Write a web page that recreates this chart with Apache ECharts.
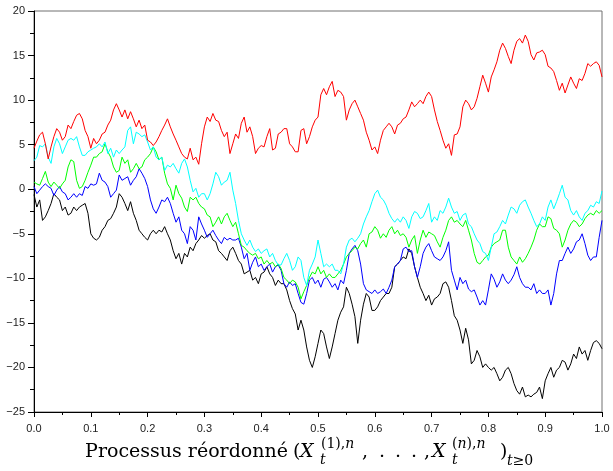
<!DOCTYPE html>
<html>
<head>
<meta charset="utf-8">
<title>Processus réordonné</title>
<script src="https://cdn.jsdelivr.net/npm/echarts@6/dist/echarts.min.js"></script>
<style>
body { margin: 0; background: #fff; }
#main { width: 613px; height: 471px; }
</style>
</head>
<body>
<div id="main"></div>
<script>
// pas de temps entre deux points
var tStep = 0.005;

// trajectoires réordonnées, lues à t = 0, 0.005, ..., 1
var blackWalk = [
  -0.6, -2.0, -1.2, -3.5, -3.1, -2.4, -1.6, -0.5, -0.9, -1.2,
  -2.4, -2.0, -2.9, -2.7, -2.0, -2.4, -2.0, -1.8, -1.6, -2.7,
  -5.0, -5.5, -5.7, -5.4, -4.6, -4.2, -3.5, -3.3, -2.7, -2.0,
  -0.5, -0.9, -1.6, -2.4, -1.4, -2.7, -3.5, -4.6, -5.0, -5.4,
  -5.7, -5.0, -4.6, -5.0, -4.6, -4.8, -4.2, -5.0, -5.7, -6.9,
  -7.8, -7.2, -8.4, -7.2, -7.6, -6.5, -6.9, -6.1, -5.7, -5.2,
  -5.5, -5.2, -5.0, -5.7, -5.9, -6.9, -7.2, -7.6, -8.0, -6.9,
  -6.5, -7.2, -8.0, -8.4, -9.5, -9.3, -9.1, -10.2, -9.9, -10.6,
  -9.5, -9.3, -8.7, -9.5, -9.9, -10.8, -10.2, -10.6, -10.6, -11.3,
  -12.5, -13.4, -14.0, -15.8, -14.7, -15.8, -17.7, -19.2, -20.0, -18.8,
  -17.3, -15.8, -16.2, -17.7, -19.0, -17.7, -16.2, -14.7, -13.8, -13.2,
  -11.0, -11.7, -12.9, -14.3, -17.3, -14.7, -12.9, -11.7, -12.1, -13.6,
  -13.6, -13.2, -12.5, -12.1, -11.7, -11.7, -11.0, -8.7, -8.4, -8.0,
  -7.6, -7.8, -6.7, -7.2, -8.7, -9.9, -11.0, -11.7, -12.5, -11.9,
  -13.0, -12.3, -12.1, -11.7, -10.6, -10.4, -11.0, -12.5, -14.2, -14.7,
  -15.8, -17.3, -15.6, -16.9, -19.6, -19.2, -18.1, -18.8, -20.0, -19.6,
  -20.0, -20.3, -20.0, -20.7, -21.5, -21.1, -20.3, -20.0, -20.7, -21.8,
  -22.6, -23.0, -22.2, -23.3, -23.1, -23.3, -23.0, -22.8, -22.2, -23.5,
  -21.5, -20.7, -20.0, -21.1, -20.3, -20.0, -19.2, -19.4, -20.3, -19.6,
  -18.5, -19.0, -17.7, -18.5, -18.1, -19.2, -18.1, -17.2, -17.0, -17.3,
  -17.9
];
var blueWalk = [
  0.3, -0.5, -0.1, 0.3, 0.6, 0.3, 0.1, -0.7, -0.1, 0.3,
  -0.3, -0.5, -1.2, -0.9, -0.5, -0.9, -0.5, -0.7, 0.3, 0.1,
  0.6, 0.45, 0.6, 1.8, 1.0, 0.8, 0.3, -0.9, -0.5, -0.1,
  1.6, 1.0, 1.2, 1.4, 0.45, 1.0, 1.4, 2.3, 1.8, 1.2,
  0.3, -1.2, -2.2, -2.7, -2.0, -1.2, -1.4, -0.9, -1.6, -2.7,
  -3.7, -3.1, -4.6, -5.0, -6.1, -4.2, -4.6, -5.7, -3.1, -3.9,
  -4.6, -5.4, -5.0, -4.6, -5.2, -5.7, -6.1, -5.4, -5.7, -5.5,
  -5.7, -5.7, -5.5, -6.5, -7.8, -7.2, -9.1, -8.2, -7.6, -8.7,
  -8.4, -9.1, -8.7, -8.4, -9.3, -8.7, -8.5, -9.1, -10.6, -11.0,
  -10.4, -10.8, -10.6, -11.7, -12.7, -12.9, -11.7, -10.2, -9.9, -10.6,
  -10.2, -11.0, -10.1, -9.9, -10.4, -11.0, -10.6, -11.3, -10.2, -10.6,
  -9.1, -7.2, -6.7, -6.3, -6.9, -8.4, -10.6, -11.3, -11.5, -11.7,
  -11.3, -11.7, -11.5, -11.2, -11.7, -11.0, -10.2, -8.7, -8.4, -8.0,
  -6.7, -6.5, -7.0, -6.9, -8.7, -9.9, -8.7, -7.2, -6.5, -6.1,
  -6.9, -7.6, -7.8, -8.0, -7.6, -6.9, -5.9, -9.1, -10.2, -11.3,
  -9.9, -10.6, -10.2, -11.2, -11.5, -11.3, -12.1, -13.0, -12.5, -13.0,
  -11.3, -9.5, -10.1, -11.0, -10.4, -9.5, -10.2, -10.6, -10.2, -9.6,
  -8.7, -9.9, -10.6, -11.0, -11.0, -11.3, -10.6, -11.7, -11.3, -11.7,
  -11.7, -11.3, -13.0, -11.7, -9.5, -8.0, -8.0, -7.2, -6.5, -7.2,
  -6.7, -5.9, -5.7, -5.0, -6.1, -7.4, -8.0, -7.6, -7.6, -5.4,
  -3.5
];
var greenWalk = [
  0.8, 0.6, 0.45, 1.2, 2.0, 0.8, 0.3, 0.8, 0.45, 0.1,
  0.6, 1.0, 2.5, 3.3, 3.1, 1.0, 0.1, 0.3, 1.0, 1.9,
  2.7, 3.6, 3.6, 4.0, 4.2, 5.1, 4.2, 3.6, 2.5, 1.9,
  2.1, 3.6, 2.9, 3.3, 1.9, 2.3, 2.9, 2.3, 2.5, 3.3,
  3.6, 4.0, 4.75, 4.2, 3.3, 3.6, 1.8, 0.6, 0.1, -1.2,
  0.45, -0.5, -1.0, -2.0, -2.5, -0.9, -1.2, -0.9, -1.6, -2.0,
  -2.2, -2.9, -3.1, -4.2, -3.7, -3.1, -3.9, -3.1, -2.7, -3.5,
  -4.2, -3.7, -5.0, -6.3, -6.5, -6.9, -7.2, -7.4, -7.2, -7.8,
  -7.6, -8.4, -8.0, -8.4, -8.2, -8.7, -8.4, -8.9, -9.9, -10.2,
  -10.6, -10.2, -10.4, -11.0, -12.3, -11.5, -10.8, -9.9, -9.3, -9.5,
  -8.7, -9.5, -9.1, -9.9, -9.5, -9.9, -9.9, -9.5, -9.1, -8.4,
  -7.6, -7.2, -6.9, -6.5, -6.7, -6.1, -5.7, -6.5, -5.0, -4.8,
  -4.2, -4.6, -5.5, -5.0, -5.4, -4.6, -4.2, -5.0, -4.6, -5.2,
  -5.0, -5.4, -6.5, -5.7, -5.2, -7.2, -5.7, -4.6, -5.4, -4.8,
  -5.0, -5.2, -5.9, -6.5, -5.4, -4.6, -3.5, -3.1, -3.7, -3.5,
  -3.9, -4.2, -3.5, -4.6, -5.7, -7.2, -8.2, -8.4, -8.0, -7.6,
  -7.4, -6.5, -6.1, -5.9, -5.7, -4.6, -4.6, -6.5, -7.6, -8.0,
  -8.4, -7.6, -8.2, -7.8, -7.2, -6.5, -5.7, -4.6, -3.9, -4.2,
  -4.2, -3.1, -3.3, -4.4, -4.6, -5.0, -6.5, -5.7, -4.6, -3.9,
  -3.5, -3.7, -4.2, -3.9, -3.3, -2.9, -2.7, -2.9, -2.4, -2.7,
  -2.4
];
var cyanWalk = [
  3.2, 3.6, 4.9, 4.75, 5.1, 3.6, 2.9, 4.75, 5.7, 5.1,
  4.0, 4.75, 5.5, 5.7, 5.5, 5.9, 4.75, 3.8, 3.8, 4.2,
  4.4, 4.6, 4.75, 5.1, 4.75, 5.3, 4.0, 4.6, 3.6, 4.4,
  4.0, 4.4, 4.75, 6.6, 7.0, 5.1, 6.4, 6.2, 5.9, 6.1,
  5.3, 4.4, 4.75, 3.6, 3.3, 3.6, 2.1, 2.7, 2.5, 2.9,
  2.3, 1.8, 2.9, 3.4, 2.5, 1.0, -0.3, 0.1, -0.9, -0.5,
  -0.5, -1.2, -0.5, 0.6, 1.9, 1.4, 0.45, 0.8, 1.0, 1.9,
  -0.1, -1.6, -3.5, -5.0, -5.7, -6.3, -5.7, -6.5, -7.0, -6.7,
  -7.2, -6.9, -6.7, -7.6, -7.2, -8.0, -8.5, -8.5, -7.8, -7.2,
  -8.0, -9.1, -8.7, -7.6, -8.0, -9.9, -10.8, -9.1, -8.4, -7.6,
  -5.7, -7.2, -8.7, -8.4, -8.7, -8.4, -9.1, -9.1, -9.5, -8.4,
  -6.5, -5.7, -5.5, -5.9, -5.5, -5.0, -3.9, -3.1, -2.4, -1.4,
  -0.5, -0.1, -0.9, -1.2, -1.8, -2.7, -3.3, -3.7, -3.3, -3.7,
  -3.1, -3.5, -4.4, -3.1, -2.5, -2.7, -3.3, -3.1, -2.4, -1.6,
  -3.7, -3.1, -3.5, -2.4, -2.7, -2.0, -1.0, -2.0, -2.7, -2.5,
  -3.5, -2.9, -2.7, -3.9, -4.2, -5.0, -5.7, -6.1, -7.0, -7.2,
  -8.0, -6.5, -5.0, -4.8, -4.2, -3.5, -3.9, -2.9, -2.0, -2.2,
  -2.7, -1.8, -1.4, -1.2, -2.0, -2.7, -3.5, -4.2, -3.9, -3.1,
  -3.5, -2.0, -1.2, -2.2, -1.4, -0.5, 0.45, -0.9, -1.2, -2.4,
  -2.9, -2.4, -3.1, -3.5, -2.7, -2.4, -1.8, -2.0, -1.4, -1.6,
  -0.2
];
var redWalk = [
  4.6, 5.4, 6.1, 6.4, 5.1, 3.4, 4.75, 5.9, 6.8, 6.4,
  5.5, 5.9, 7.2, 6.8, 7.6, 8.3, 8.5, 7.9, 6.6, 5.9,
  4.6, 5.7, 5.1, 5.5, 6.2, 6.4, 7.2, 7.75, 8.9, 9.6,
  8.9, 8.1, 8.9, 7.9, 8.7, 7.9, 7.0, 7.75, 6.8, 7.2,
  5.5, 5.3, 4.9, 5.3, 5.9, 6.6, 7.2, 7.9, 7.0, 6.2,
  5.5, 4.75, 4.0, 3.6, 3.4, 4.6, 3.3, 3.6, 2.8, 5.1,
  7.0, 8.1, 7.6, 8.5, 7.75, 7.6, 6.6, 5.9, 6.4, 4.0,
  5.1, 6.2, 5.7, 7.4, 8.1, 6.4, 7.0, 5.9, 4.0, 4.6,
  4.9, 4.75, 5.9, 6.8, 4.4, 4.6, 6.2, 6.4, 6.8, 6.8,
  5.1, 4.75, 4.2, 4.2, 6.6, 6.8, 5.1, 5.9, 7.0, 7.75,
  8.1, 10.6, 11.3, 10.6, 11.5, 12.1, 10.4, 11.1, 10.9, 10.4,
  7.75, 8.9, 9.6, 10.0, 9.25, 8.5, 7.75, 6.4, 5.5, 4.4,
  4.75, 4.0, 5.5, 6.6, 7.0, 7.4, 7.0, 6.2, 7.2, 7.4,
  7.9, 8.1, 8.9, 9.8, 9.25, 9.6, 10.0, 9.6, 10.4, 10.9,
  10.4, 8.9, 7.6, 6.6, 5.5, 4.6, 5.1, 3.8, 6.1, 6.2,
  7.0, 9.25, 10.0, 9.6, 8.9, 9.25, 10.2, 11.5, 12.8, 11.9,
  10.9, 12.6, 13.4, 14.3, 15.6, 16.4, 15.8, 14.9, 14.1, 15.6,
  16.6, 16.9, 16.4, 17.3, 16.6, 15.1, 14.5, 15.3, 15.4, 15.6,
  15.1, 13.8, 13.6, 13.2, 12.2, 11.1, 11.9, 10.8, 11.7, 12.6,
  11.9, 11.3, 12.4, 12.2, 13.0, 14.1, 13.8, 14.1, 14.3, 13.9,
  12.6
];

var walks = [
  { vals: blackWalk, color: '#000000' },
  { vals: blueWalk, color: '#0000ff' },
  { vals: greenWalk, color: '#00ff00' },
  { vals: cyanWalk, color: '#00ffff' },
  { vals: redWalk, color: '#ff0000' }
];

function toPairs(vals) {
  return vals.map(function (v, i) { return [i * tStep, v]; });
}

var serif = '"DejaVu Serif", serif';
function txt(x, y, text, size, italic, align) {
  return {
    type: 'text', x: x, y: y, silent: true,
    style: {
      text: text, fill: '#000', align: align || 'left', verticalAlign: 'middle',
      font: (italic ? 'italic ' : '') + size + 'px ' + serif
    }
  };
}
function richTxt(x, y, text, size) {
  return {
    type: 'text', x: x, y: y, silent: true,
    style: {
      text: text, fill: '#000', align: 'left', verticalAlign: 'middle',
      font: size + 'px ' + serif,
      rich: {
        u: { fontSize: size, fontFamily: serif },
        i: { fontSize: size, fontFamily: serif, fontStyle: 'italic' }
      }
    }
  };
}

var myChart = echarts.init(document.getElementById('main'));
var option = {
  animation: false,
  backgroundColor: '#fff',
  grid: { left: 34, right: 11, top: 11, bottom: 59, show: true, borderColor: '#707070', borderWidth: 1 },
  xAxis: {
    type: 'value', min: 0, max: 1, interval: 0.1,
    axisLine: { onZero: false, lineStyle: { color: '#000', width: 1 } },
    axisTick: { length: 5, lineStyle: { color: '#000' } },
    minorTick: { show: true, splitNumber: 2, length: 3, lineStyle: { color: '#000' } },
    splitLine: { show: false },
    axisLabel: {
      margin: 11, fontSize: 11, color: '#222', fontFamily: '"Liberation Sans", Arial, sans-serif',
      formatter: function (v) { return v.toFixed(1); }
    }
  },
  yAxis: {
    type: 'value', min: -25, max: 20, interval: 5,
    axisLine: { show: true, onZero: false, lineStyle: { color: '#000', width: 1 } },
    axisTick: { show: true, length: 6, lineStyle: { color: '#000' } },
    minorTick: { show: true, splitNumber: 2, length: 4, lineStyle: { color: '#000' } },
    splitLine: { show: false },
    axisLabel: {
      margin: 9, fontSize: 11, color: '#222', fontFamily: '"Liberation Sans", Arial, sans-serif',
      formatter: function (v) { return String(v).replace('-', '\u2212'); }
    }
  },
  series: walks.map(function (w) {
    return {
      type: 'line', data: toPairs(w.vals), showSymbol: false, symbol: 'none',
      silent: true, lineStyle: { color: w.color, width: 1 }
    };
  }),
  graphic: [
    txt(288, 452, 'Processus réordonné', 19, false, 'right'),
    txt(293, 452, '(', 19, false),
    txt(300, 452, 'X', 19, true),
    richTxt(321, 444, '{u|(1),}{i|n}', 14),
    txt(320, 460, 't', 14, true),
    txt(362, 452, ',', 19, false),
    txt(379, 452, '.', 19, false),
    txt(395, 452, '.', 19, false),
    txt(411, 452, '.', 19, false),
    txt(424, 452, ',', 19, false),
    txt(432, 452, 'X', 19, true),
    richTxt(452, 444, '{u|(}{i|n}{u|),}{i|n}', 14),
    txt(452, 460, 't', 14, true),
    txt(500, 452, ')', 19, false),
    richTxt(507, 461, '{i|t}{u|≥0}', 14)
  ]
};
myChart.setOption(option);
</script>
</body>
</html>
